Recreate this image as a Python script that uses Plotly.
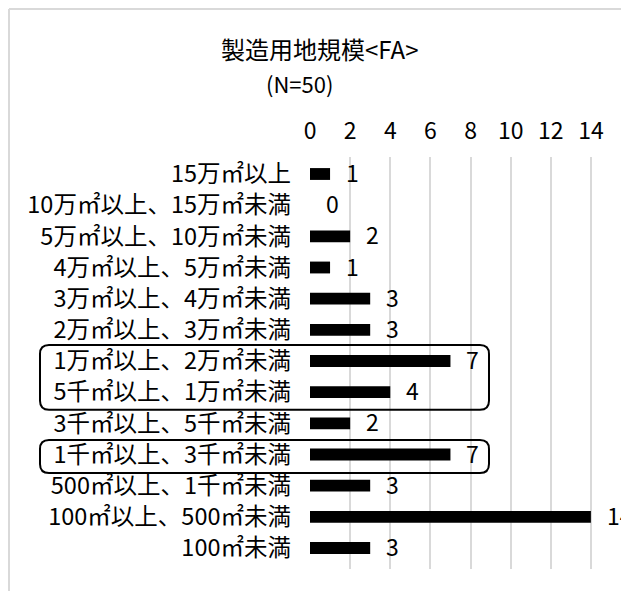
import plotly.graph_objects as go

# 製造用地規模 (FA) — 件数
categories = [
    "15万㎡以上",
    "10万㎡以上、15万㎡未満",
    "5万㎡以上、10万㎡未満",
    "4万㎡以上、5万㎡未満",
    "3万㎡以上、4万㎡未満",
    "2万㎡以上、3万㎡未満",
    "1万㎡以上、2万㎡未満",
    "5千㎡以上、1万㎡未満",
    "3千㎡以上、5千㎡未満",
    "1千㎡以上、3千㎡未満",
    "500㎡以上、1千㎡未満",
    "100㎡以上、500㎡未満",
    "100㎡未満",
]
counts = [1, 0, 2, 1, 3, 3, 7, 4, 2, 7, 3, 14, 3]
x_ticks = [0, 2, 4, 6, 8, 10, 12, 14]
highlight_groups = [
    ["1万㎡以上、2万㎡未満", "5千㎡以上、1万㎡未満"],
    ["1千㎡以上、3千㎡未満"],
]
title_text = "製造用地規模&lt;FA&gt;"
subtitle_text = "(N=50)"

W, H = 621, 591
PL, PR, PT, PB = 310, 621, 157, 569
JP = "Noto Sans CJK JP"


def px2x(px):
    return (px - PL) / (PR - PL)


def py2y(py):
    return (PB - py) / (PB - PT)


def row_center(i):
    return PT + (i + 0.5) * (PB - PT) / len(categories)


def rounded_rect(x0, y0, x1, y1, r):
    def P(px, py):
        return f"{px2x(px):.5f},{py2y(py):.5f}"
    return (
        f"M {P(x0 + r, y0)} L {P(x1 - r, y0)} Q {P(x1, y0)} {P(x1, y0 + r)} "
        f"L {P(x1, y1 - r)} Q {P(x1, y1)} {P(x1 - r, y1)} "
        f"L {P(x0 + r, y1)} Q {P(x0, y1)} {P(x0, y1 - r)} "
        f"L {P(x0, y0 + r)} Q {P(x0, y0)} {P(x0 + r, y0)} Z"
    )


fig = go.Figure(
    go.Bar(
        x=counts,
        y=categories,
        orientation="h",
        marker=dict(color="#000000", line=dict(width=0)),
        hoverinfo="skip",
    )
)

annotations = []
# value labels next to each bar
for cat, v in zip(categories, counts):
    annotations.append(dict(
        x=v, y=cat, xref="x", yref="y", text=str(v), showarrow=False,
        xanchor="left", yanchor="middle", xshift=14, yshift=2,
        font=dict(family=JP, size=23, color="#000000"),
    ))

# chart title
annotations.append(dict(
    x=px2x(319), y=py2y(48), xref="paper", yref="paper", text=title_text,
    showarrow=False, xanchor="center", yanchor="middle",
    font=dict(family=JP, size=24, color="#000000"),
))
annotations.append(dict(
    x=px2x(299), y=py2y(83), xref="paper", yref="paper", text=subtitle_text,
    showarrow=False, xanchor="center", yanchor="middle",
    font=dict(family=JP, size=22, color="#000000"),
))

shapes = []
# outer chart frame (left and top edges)
frame = dict(type="line", xref="paper", yref="paper",
             line=dict(color="#d9d9d9", width=2), layer="below")
shapes.append({**frame, "x0": px2x(9), "x1": px2x(9), "y0": py2y(9), "y1": py2y(H + 5)})
shapes.append({**frame, "x0": px2x(9), "x1": px2x(W + 5), "y0": py2y(9), "y1": py2y(9)})

# rounded outlines around highlighted categories
for group in highlight_groups:
    idx = [categories.index(c) for c in group]
    top = row_center(min(idx)) - 18
    bot = row_center(max(idx)) + 15
    shapes.append(dict(
        type="path", xref="paper", yref="paper",
        path=rounded_rect(40, top, 489, bot, 9),
        line=dict(color="#000000", width=2), fillcolor="rgba(0,0,0,0)",
    ))

fig.update_layout(
    width=W, height=H,
    margin=dict(l=PL, r=W - PR, t=PT, b=H - PB, pad=0),
    paper_bgcolor="#ffffff", plot_bgcolor="#ffffff",
    showlegend=False,
    bargap=0.62,
    annotations=annotations,
    shapes=shapes,
    xaxis=dict(
        side="top", range=[0, 15.5], tickmode="array", tickvals=x_ticks,
        ticktext=[str(t) for t in x_ticks],
        showgrid=True, gridcolor="#d9d9d9", gridwidth=1.5,
        zeroline=False, showline=False, ticks="",
        ticklabelstandoff=12,
        tickfont=dict(family=JP, size=23, color="#000000"),
        fixedrange=True,
    ),
    yaxis=dict(
        autorange="reversed", showgrid=False, zeroline=False, showline=False,
        ticks="", ticklabelstandoff=18,
        tickfont=dict(family=JP, size=23.5, color="#000000"),
        fixedrange=True,
    ),
)

fig.write_html("out.html")
